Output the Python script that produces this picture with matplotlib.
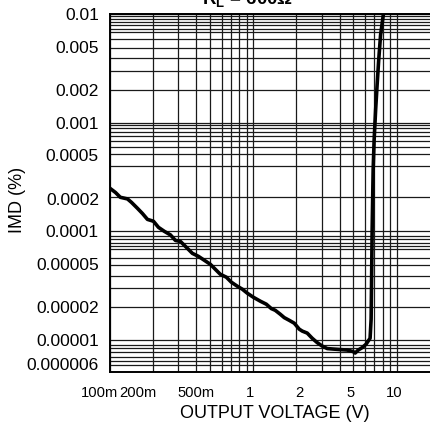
import matplotlib
matplotlib.use("Agg")
import matplotlib.pyplot as plt
from matplotlib import font_manager
from matplotlib.transforms import ScaledTranslation
from matplotlib.ticker import NullFormatter

# IMD vs output voltage, RL = 600 ohm
volts = [0.1, 0.1092, 0.118, 0.1324, 0.1412, 0.1555, 0.1685, 0.1825, 0.201, 0.2178,
         0.2398, 0.264, 0.286, 0.3099, 0.3413, 0.3758, 0.4138, 0.4556, 0.5015, 0.5433,
         0.5888, 0.6484, 0.7026, 0.7736, 0.8382, 0.9082, 1.0, 1.119, 1.232, 1.335,
         1.422, 1.542, 1.644, 1.782, 1.931, 2.093, 2.196, 2.378, 2.576, 2.792,
         3.026, 3.279, 3.611, 4.038, 4.519, 4.977, 5.138, 5.395, 5.754, 6.13,
         6.53, 6.64, 6.69, 6.75, 6.86, 6.97, 7.14, 7.31, 7.50, 7.73, 8.09, 8.2]
imd = [2.49e-4, 2.28e-4, 2.06e-4, 1.99e-4, 1.85e-4, 1.63e-4, 1.46e-4, 1.29e-4, 1.24e-4, 1.09e-4,
       1.0e-4, 9.29e-5, 8.26e-5, 8.09e-5, 7.13e-5, 6.28e-5, 5.90e-5, 5.42e-5, 4.98e-5, 4.48e-5,
       4.03e-5, 3.79e-5, 3.41e-5, 3.13e-5, 2.94e-5, 2.70e-5, 2.48e-5, 2.28e-5, 2.14e-5, 1.95e-5,
       1.88e-5, 1.73e-5, 1.61e-5, 1.52e-5, 1.43e-5, 1.26e-5, 1.21e-5, 1.16e-5, 1.04e-5, 9.48e-6,
       8.81e-6, 8.36e-6, 8.27e-6, 8.18e-6, 8.10e-6, 7.84e-6, 7.60e-6, 8.10e-6, 8.53e-6, 9.19e-6,
       1.04e-5, 1.56e-5, 3.63e-5, 1.04e-4, 3.71e-4, 6.98e-4, 1.32e-3, 2.23e-3, 3.78e-3, 6.42e-3,
       1.0e-2, 1.1e-2]

x_ticks = [0.1, 0.2, 0.5, 1, 2, 5, 10]
x_labels = ["100m", "200m", "500m", "1", "2", "5", "10"]
y_ticks = [0.01, 0.005, 0.002, 0.001, 0.0005, 0.0002, 0.0001, 0.00005, 0.00002, 0.00001, 0.000006]
y_labels = ["0.01", "0.005", "0.002", "0.001", "0.0005", "0.0002", "0.0001",
            "0.00005", "0.00002", "0.00001", "0.000006"]

# the horizontal grid of the original is not a clean log grid
y_grid = ([1e-2, 1e-3, 1e-4, 1e-5]
          + [m * 1e-3 for m in [2, 3, 3.9, 4.9, 5.9, 6.8, 7.3, 7.9, 8.5, 9.0, 9.6]]
          + [m * 1e-4 for m in [2.06, 4.0, 5.2, 6.0, 6.8, 7.5, 8.15, 8.9, 9.45]]
          + [m * 1e-5 for m in [2, 3, 3.9, 4.9, 5.7, 6.9, 7.4, 7.9, 8.5, 9.1]]
          + [m * 1e-6 for m in [5.9, 6.45, 7.0, 7.7, 8.4, 9.1]])
x_grid = [m * 10.0 ** k for k in (-1, 0, 1) for m in range(1, 10)]

names = {f.name for f in font_manager.fontManager.ttflist}
BASE = "Liberation Sans" if "Liberation Sans" in names else "DejaVu Sans"

plt.rcParams["font.family"] = [BASE, "DejaVu Sans"]
plt.rcParams["mathtext.fontset"] = "custom"
plt.rcParams["mathtext.rm"] = BASE
plt.rcParams["mathtext.bf"] = BASE + ":bold"

W, H = 430, 432
fig = plt.figure(figsize=(W / 100, H / 100), dpi=100)
top, bottom, left = 14, 371.7, 110
ax = fig.add_axes([left / W, 1 - bottom / H, 1 - left / W, (bottom - top) / H])
ax.set_xscale("log")
ax.set_yscale("log")
ax.set_xlim(0.1, 17.1)
ax.set_ylim(5.12e-6, 0.01)

for v in x_grid:
    ax.axvline(v, color="#1a1a1a", lw=0.9, zorder=1)
for v in y_grid:
    ax.axhline(v, color="#1a1a1a", lw=0.9, zorder=1)

ax.plot(volts, imd, color="black", lw=2.6, solid_joinstyle="round", zorder=3)

ax.set_xticks(x_ticks)
ax.set_xticklabels(x_labels, fontsize=10.6)
ax.set_yticks(y_ticks)
ax.set_yticklabels(y_labels, fontsize=12.5)
ax.xaxis.set_minor_formatter(NullFormatter())
ax.yaxis.set_minor_formatter(NullFormatter())
ax.tick_params(which="both", length=0)
ax.tick_params(axis="x", pad=10)
ax.tick_params(axis="y", pad=8)

# labels of the first decade sit left of their grid lines in the original
x_shift = [-10, -15, -14, -3, 3, -3, -2]
for lab, dx in zip(ax.get_xticklabels(), x_shift):
    lab.set_transform(lab.get_transform() + ScaledTranslation(dx / 100, 0, fig.dpi_scale_trans))

ax.spines["right"].set_visible(False)
for s in ("left", "bottom", "top"):
    ax.spines[s].set_linewidth(1.4)
    ax.spines[s].set_color("black")

fig.text(18 / W, 1 - 200 / H, "IMD (%)", rotation=90, ha="center", va="center", fontsize=13)
fig.text(275 / W, 1 - 413 / H, "OUTPUT VOLTAGE (V)", ha="center", va="center", fontsize=13)
fig.text(248 / W, 1 - 4 / H, r"$\mathbf{R_L}$ = 600Ω", ha="center", va="baseline",
         fontsize=13.5, fontweight="bold")

fig.savefig("out.png", dpi=100)
